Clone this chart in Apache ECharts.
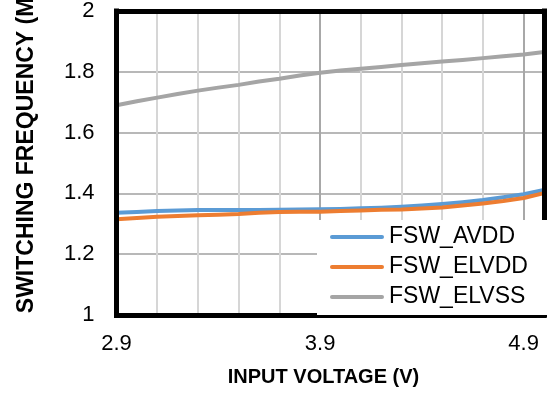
<!DOCTYPE html>
<html>
<head>
<meta charset="utf-8">
<script src="https://cdn.jsdelivr.net/npm/echarts@6/dist/echarts.min.js"></script>
<style>
html,body{margin:0;padding:0;background:#fff;}
#chart{width:547px;height:393px;}
</style>
</head>
<body>
<div id="chart"></div>
<script>
// ---- data ----
const voltage = [2.9,3.0,3.1,3.2,3.3,3.4,3.5,3.6,3.7,3.8,3.9,4.0,4.1,4.2,4.3,4.4,4.5,4.6,4.7,4.8,4.9,5.0];
const fswAvdd = [1.336,1.339,1.342,1.344,1.345,1.345,1.345,1.345,1.346,1.347,1.348,1.349,1.351,1.353,1.356,1.360,1.365,1.371,1.378,1.387,1.397,1.411];
const fswElvdd = [1.315,1.319,1.323,1.326,1.328,1.330,1.332,1.336,1.339,1.340,1.340,1.342,1.344,1.346,1.347,1.350,1.354,1.360,1.367,1.375,1.385,1.401];
const fswElvss = [1.690,1.703,1.715,1.727,1.738,1.748,1.757,1.768,1.777,1.788,1.797,1.804,1.810,1.816,1.822,1.828,1.834,1.839,1.845,1.851,1.857,1.865];
const seriesNames = ['FSW_AVDD','FSW_ELVDD','FSW_ELVSS'];
const xTickLabels = ['2.9','3.9','4.9'];
const xTitle = 'INPUT VOLTAGE (V)';
const yTitle = 'SWITCHING FREQUENCY (MHz)';

const FONT = "'Liberation Sans', Arial, sans-serif";
const pair = (xs, ys) => xs.map((x, i) => [x, ys[i]]);

const chart = echarts.init(document.getElementById('chart'), null, {renderer: 'canvas'});
const border = {show: true, lineStyle: {color: '#000', width: 5, cap: 'square'}};
const hidden = {axisLabel: {show: false}, axisTick: {show: false}, splitLine: {show: false}};
const capsule = 'path://M2,0L52,0A2,2,0,0,1,52,4L2,4A2,2,0,0,1,2,0Z';

chart.setOption({
  animation: false,
  backgroundColor: '#fff',
  grid: {left: 116.5, top: 10.5, right: 1, bottom: 78, containLabel: false},
  xAxis: [
    { type: 'value', position: 'bottom', min: 2.9, max: 5.0, interval: 0.2, z: 0,
      axisLine: {show: false}, axisTick: {show: false},
      axisLabel: {
        margin: 18, fontSize: 22, color: '#000', fontFamily: FONT,
        formatter: v => { const s = (Math.round(v * 10) / 10).toFixed(1); return xTickLabels.includes(s) ? s : ''; }
      },
      splitLine: {show: true, lineStyle: {width: 2, color: ['#a8a8a8', '#d6d6d6', '#d6d6d6', '#d6d6d6', '#d6d6d6']}}
    },
    Object.assign({ type: 'value', position: 'bottom', min: 2.9, max: 5.0, z: 3, axisLine: border }, hidden),
    Object.assign({ type: 'value', position: 'top', min: 2.9, max: 5.0, z: 3, axisLine: border }, hidden)
  ],
  yAxis: [
    { type: 'value', position: 'left', min: 1, max: 2, interval: 0.2, z: 0,
      axisLine: {show: false}, axisTick: {show: false},
      axisLabel: {margin: 22, fontSize: 22, color: '#000', fontFamily: FONT,
        formatter: v => String(Math.round(v * 10) / 10)},
      splitLine: {show: true, lineStyle: {width: 1.5, color: '#a0a0a0'}}
    },
    Object.assign({ type: 'value', position: 'left', min: 1, max: 2, z: 3, axisLine: border }, hidden),
    Object.assign({ type: 'value', position: 'right', min: 1, max: 2, z: 3, axisLine: border }, hidden)
  ],
  legend: {
    orient: 'vertical', left: 317, top: 220, z: 10,
    backgroundColor: '#fff', padding: [5, 40, 6, 13],
    itemWidth: 54, itemHeight: 4, itemGap: 6,
    icon: capsule,
    textStyle: {fontSize: 23, lineHeight: 24, color: '#000', fontFamily: FONT},
    data: seriesNames
  },
  graphic: [
    { type: 'text', x: 27, y: 137.5, rotation: Math.PI / 2, z: 20,
      style: {text: yTitle, fontSize: 23, fontWeight: 'bold', fontFamily: FONT, fill: '#000', align: 'center', verticalAlign: 'middle'} },
    { type: 'text', x: 323.5, y: 377, z: 20,
      style: {text: xTitle, fontSize: 20, fontWeight: 'bold', fontFamily: FONT, fill: '#000', align: 'center', verticalAlign: 'middle'} }
  ],
  series: [
    {name: seriesNames[0], type: 'line', data: pair(voltage, fswAvdd), color: '#5B9BD5'},
    {name: seriesNames[1], type: 'line', data: pair(voltage, fswElvdd), color: '#ED7D31'},
    {name: seriesNames[2], type: 'line', data: pair(voltage, fswElvss), color: '#A5A5A5'}
  ].map(s => Object.assign(s, {symbol: 'none', z: 2, xAxisIndex: 0, yAxisIndex: 0, smooth: false,
      lineStyle: {width: 4, cap: 'round', join: 'round'}}))
});
</script>
</body>
</html>
